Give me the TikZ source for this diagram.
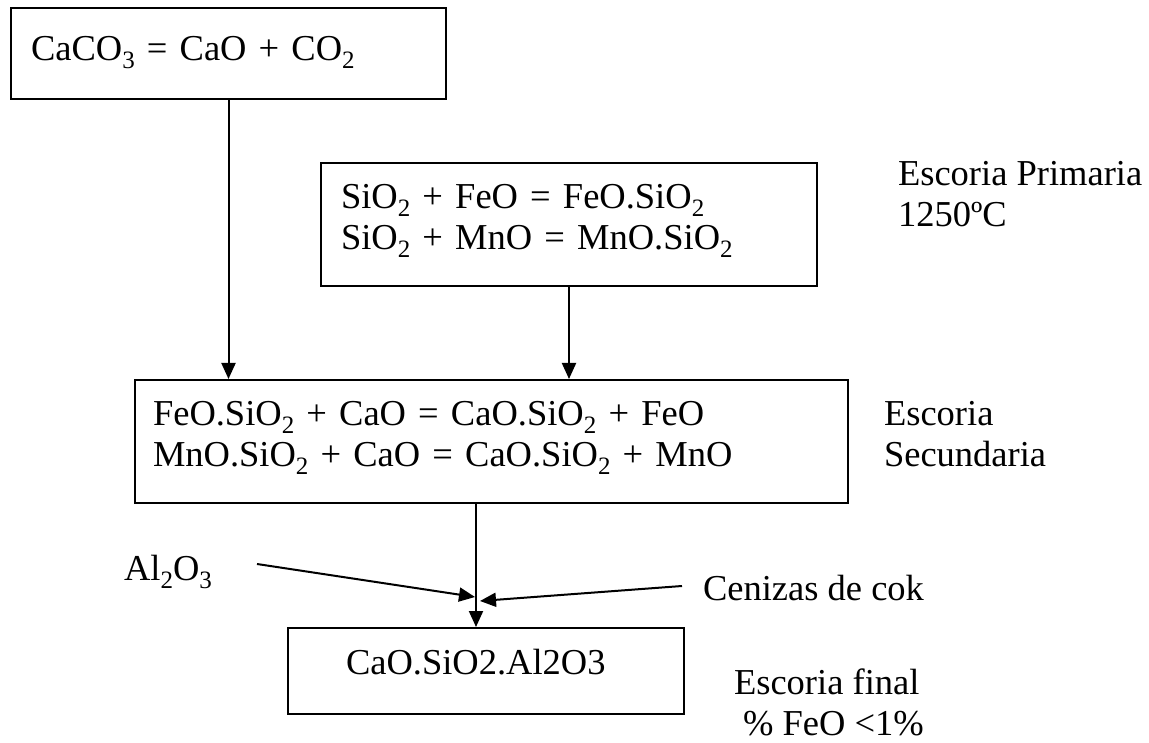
\documentclass[tikz,border=0pt]{standalone}
\usepackage{fontspec}
\setmainfont{Liberation Serif}
\usetikzlibrary{arrows.meta,positioning,calc}
\newcommand{\chemsub}[1]{\raisebox{-8pt}{\fontsize{25}{25}\selectfont #1}}

\begin{document}
\begin{tikzpicture}[x=1pt,y=-1pt,->,>={Triangle[length=16pt,width=14pt]},
    line width=2pt,font=\fontsize{36.5}{41}\selectfont,
    slag box/.style={rectangle,draw,inner ysep=0pt,align=left},
    side note/.style={inner sep=0pt,align=left,anchor=base west}]

    \useasboundingbox (0,0) rectangle (1149,743);

    \node[slag box,anchor=north west,inner xsep=20pt,text width=395pt,
        text height=53pt,text depth=38pt] (Calcination) at (10,7)
        {CaCO\chemsub{3} = CaO + CO\chemsub{2}};

    \node[slag box,anchor=north west,inner xsep=20pt,text width=456pt,
        text height=46pt,text depth=77pt] (PrimarySlag) at (320,162)
        {SiO\chemsub{2} + FeO = FeO.SiO\chemsub{2}\\
         SiO\chemsub{2} + MnO = MnO.SiO\chemsub{2}};

    \node[slag box,anchor=north west,inner xsep=18pt,text width=677pt,
        text height=45pt,text depth=78pt] (SecondarySlag) at (134,379)
        {FeO.SiO\chemsub{2} + CaO = CaO.SiO\chemsub{2} + FeO\\
         MnO.SiO\chemsub{2} + CaO = CaO.SiO\chemsub{2} + MnO};

    \node[slag box,anchor=north west,inner xsep=58pt,text width=280pt,
        text height=46pt,text depth=40pt] (FinalSlag) at (287,627)
        {CaO.SiO2.Al2O3};

    % multi-line notes sit on their last line
    \node[side note] (PrimaryLabel) at (897,227) {Escoria Primaria\\1250ºC};
    \node[side note] (SecondaryLabel) at (883,466) {Escoria\\Secundaria};
    \node[side note] (FinalLabel) at (733,735) {Escoria final\\\hspace*{9pt}\% FeO <1\%};
    \node[side note] (Alumina) at (123,580) {Al\chemsub{2}O\chemsub{3}};
    \node[side note] (CokeAsh) at (702,600) {Cenizas de cok};

    \coordinate (Merge) at (476,597);
    \coordinate (AluminaStart) at (257,564);
    \coordinate (AshStart) at (682,586);

    \draw (Calcination.south) -- (Calcination.south |- SecondarySlag.north);
    \draw (PrimarySlag.south) -- (PrimarySlag.south |- SecondarySlag.north);
    \draw (SecondarySlag.south -| Merge) -- (FinalSlag.north -| Merge);

    \draw (AluminaStart) -- ($(Merge)+(-1,0)$);
    \draw (AshStart) -- ($(Merge)+(4,4)$);
\end{tikzpicture}
\end{document}
